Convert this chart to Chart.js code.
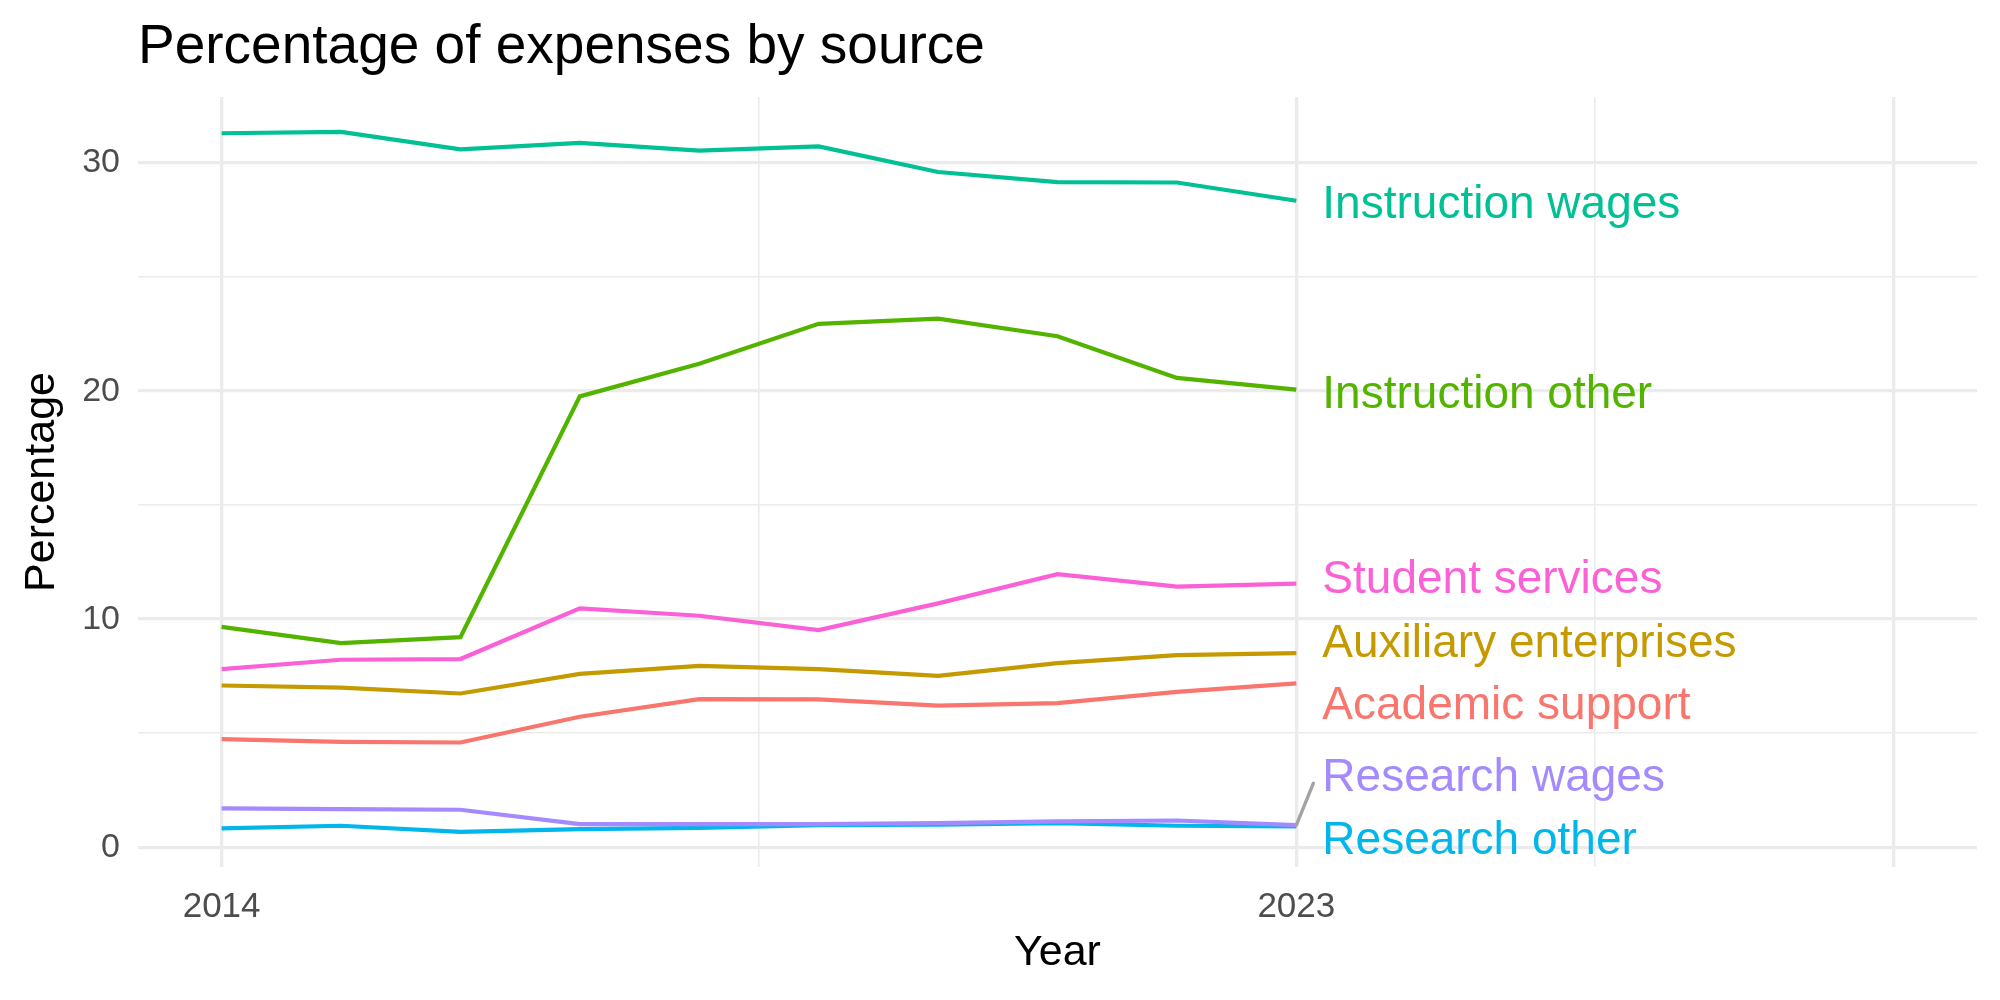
<!DOCTYPE html>
<html>
<head>
<meta charset="utf-8">
<title>Percentage of expenses by source</title>
<script src="https://cdn.jsdelivr.net/npm/chart.js@4.4.0/dist/chart.umd.min.js"></script>
<style>
  body { margin: 0; background: #fff; }
  canvas { display: block; }
</style>
</head>
<body>
<canvas id="expensesChart" width="2000" height="1000"></canvas>
<script>
var years = [2014, 2015, 2016, 2017, 2018, 2019, 2020, 2021, 2022, 2023];

var seriesNames = ['Academic support', 'Auxiliary enterprises', 'Instruction other',
    'Instruction wages', 'Research other', 'Research wages', 'Student services'];

var academicSupport      = [4.74, 4.62, 4.59, 5.72, 6.49, 6.48, 6.21, 6.32, 6.81, 7.18];
var auxiliaryEnterprises = [7.09, 7.00, 6.74, 7.60, 7.95, 7.81, 7.51, 8.07, 8.42, 8.51];
var instructionOther     = [9.66, 8.95, 9.21, 19.77, 21.20, 22.95, 23.18, 22.41, 20.58, 20.07];
var instructionWages     = [31.31, 31.37, 30.60, 30.89, 30.55, 30.73, 29.61, 29.17, 29.15, 28.35];
var researchOther        = [0.82, 0.94, 0.67, 0.79, 0.85, 0.96, 0.99, 1.05, 0.94, 0.91];
var researchWages        = [1.70, 1.67, 1.64, 1.01, 1.01, 1.01, 1.05, 1.13, 1.17, 0.97];
var studentServices      = [7.81, 8.22, 8.25, 10.47, 10.15, 9.52, 10.69, 11.97, 11.43, 11.56];

// where the end labels sit (after repelling), in data units
var labelValues = [6.16, 8.90, 19.81, 28.14, 0.27, 3.03, 11.69];

var xTicks = [2014, 2018.5, 2023, 2025.5, 2028];
var xLabelled = [2014, 2023];
var yTicks = [0, 5, 10, 15, 20, 25, 30];
var yLabelled = [0, 10, 20, 30];

(function () {
    var colors = ['#F8766D', '#C49A00', '#53B400', '#00C094', '#00B6EB', '#A58AFF', '#FB61D7'];
    var allValues = [academicSupport, auxiliaryEnterprises, instructionOther, instructionWages,
        researchOther, researchWages, studentServices];
    var font = '"Liberation Sans", Arial, Helvetica, sans-serif';
    var gridColor = '#EBEBEB';

    var datasets = allValues.map(function (vals, i) {
        return {
            label: seriesNames[i],
            data: vals.map(function (v, j) { return { x: years[j], y: v }; }),
            borderColor: colors[i],
            backgroundColor: colors[i],
            borderWidth: 4.2,
            pointRadius: 0,
            tension: 0,
            order: -i
        };
    });

    // text labels at the end of each line, plus the repel segment for Research wages
    var endLabels = {
        id: 'endLabels',
        afterDatasetsDraw: function (chart) {
            var ctx = chart.ctx;
            var xs = chart.scales.x;
            var ys = chart.scales.y;
            var last = years[years.length - 1];
            var x0 = xs.getPixelForValue(last);

            ctx.save();
            ctx.strokeStyle = '#A3A3A3';
            ctx.lineWidth = 3.4;
            ctx.lineCap = 'round';
            ctx.beginPath();
            ctx.moveTo(x0, ys.getPixelForValue(researchWages[researchWages.length - 1]));
            ctx.lineTo(x0 + 17, ys.getPixelForValue(2.8));
            ctx.stroke();

            ctx.font = '46px ' + font;
            ctx.textAlign = 'left';
            ctx.textBaseline = 'middle';
            seriesNames.forEach(function (name, i) {
                ctx.fillStyle = colors[i];
                ctx.fillText(name, x0 + 26, ys.getPixelForValue(labelValues[i]));
            });
            ctx.restore();
        }
    };

    var ctx = document.getElementById('expensesChart').getContext('2d');
    var myChart = new Chart(ctx, {
        type: 'line',
        data: { datasets: datasets },
        options: {
            responsive: false,
            animation: false,
            layout: { padding: { left: 0, right: 23, top: 0, bottom: 0 } },
            scales: {
                x: {
                    type: 'linear',
                    min: 2013.3,
                    max: 2028.7,
                    afterBuildTicks: function (scale) {
                        scale.ticks = xTicks.map(function (v) { return { value: v }; });
                    },
                    afterFit: function (scale) { scale.height = 133; },
                    border: { display: false },
                    grid: {
                        color: gridColor,
                        drawTicks: false,
                        lineWidth: function (c) {
                            return xTicks.indexOf(c.tick.value) % 2 === 0 ? 3.3 : 1.6;
                        }
                    },
                    ticks: {
                        autoSkip: false,
                        maxRotation: 0,
                        padding: 19,
                        color: '#4D4D4D',
                        font: { family: font, size: 35 },
                        callback: function (v) { return xLabelled.indexOf(v) >= 0 ? String(v) : ''; }
                    },
                    title: {
                        display: true,
                        text: 'Year',
                        color: '#000',
                        font: { family: font, size: 43 },
                        padding: { top: 0, bottom: 21 }
                    }
                },
                y: {
                    min: -0.87,
                    max: 32.9,
                    afterBuildTicks: function (scale) {
                        scale.ticks = yTicks.map(function (v) { return { value: v }; });
                    },
                    afterFit: function (scale) { scale.width = 138; },
                    border: { display: false },
                    grid: {
                        color: gridColor,
                        drawTicks: false,
                        lineWidth: function (c) {
                            return yLabelled.indexOf(c.tick.value) >= 0 ? 3.3 : 1.6;
                        }
                    },
                    ticks: {
                        padding: 18,
                        color: '#4D4D4D',
                        font: { family: font, size: 34 },
                        callback: function (v) { return yLabelled.indexOf(v) >= 0 ? String(v) : ''; }
                    },
                    title: {
                        display: true,
                        text: 'Percentage',
                        color: '#000',
                        font: { family: font, size: 43 },
                        padding: { top: 16, bottom: 0 }
                    }
                }
            },
            plugins: {
                legend: { display: false },
                tooltip: { enabled: false },
                title: {
                    display: true,
                    text: 'Percentage of expenses by source',
                    align: 'start',
                    fullSize: false,
                    color: '#000',
                    font: { family: font, size: 55, weight: 'normal' },
                    padding: { top: 15, bottom: 16 }
                }
            }
        },
        plugins: [endLabels]
    });
})();
</script>
</body>
</html>
